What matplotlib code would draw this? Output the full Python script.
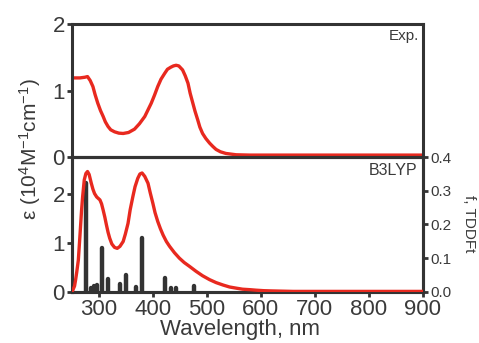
import numpy as np
import matplotlib
matplotlib.use('Agg')
import matplotlib.pyplot as plt

plt.rcParams['font.family'] = ['Liberation Sans', 'DejaVu Sans']
plt.rcParams['mathtext.fontset'] = 'custom'
plt.rcParams['mathtext.rm'] = 'Liberation Sans'
plt.rcParams['mathtext.it'] = 'Liberation Sans'

wl_exp = [250, 265, 274, 279, 284, 289, 293, 298, 303, 308, 312, 317, 322, 329,
          337, 345, 355, 366, 375, 385, 391, 397, 403, 409, 415, 422, 427, 433,
          438, 443, 448, 455, 460, 465, 469, 474, 478, 483, 487, 492, 498, 505,
          511, 517, 525, 535, 554, 580, 620, 700, 900]
eps_exp = [1.19, 1.19, 1.20, 1.21, 1.15, 1.06, 0.94, 0.81, 0.70, 0.61, 0.53, 0.46,
           0.41, 0.38, 0.36, 0.355, 0.37, 0.42, 0.50, 0.61, 0.71, 0.81, 0.93,
           1.06, 1.17, 1.26, 1.32, 1.35, 1.37, 1.38, 1.37, 1.31, 1.22, 1.11, 0.96,
           0.81, 0.69, 0.56, 0.45, 0.355, 0.28, 0.21, 0.16, 0.115, 0.08, 0.055,
           0.035, 0.03, 0.03, 0.03, 0.03]

# espectro calculado B3LYP (panel inferior)
wl_calc = [250, 252, 255, 257, 259, 262, 265, 268, 270, 273, 276, 279, 282, 286,
           289, 292, 296, 302, 305, 308, 311, 314, 317, 320, 324, 329, 334, 339,
           345, 349, 354, 358, 363, 367, 372, 376, 380, 385, 391, 395, 400, 404,
           409, 414, 419, 425, 431, 440, 449, 458, 468, 480, 492, 505, 517, 530,
           542, 555, 566, 580, 591, 605, 620, 660, 900]
eps_calc = [0.0, 0.04, 0.12, 0.25, 0.4, 0.65, 1.15, 1.67, 1.95, 2.29, 2.42, 2.46,
            2.40, 2.22, 2.10, 2.01, 1.94, 1.88, 1.80, 1.67, 1.53, 1.37, 1.22, 1.10,
            0.98, 0.91, 0.89, 0.93, 1.03, 1.18, 1.40, 1.68, 1.95, 2.15, 2.32, 2.41,
            2.43, 2.36, 2.22, 2.03, 1.81, 1.62, 1.44, 1.29, 1.16, 1.03, 0.93, 0.80,
            0.69, 0.60, 0.52, 0.42, 0.33, 0.25, 0.19, 0.14, 0.10, 0.075, 0.055,
            0.045, 0.035, 0.025, 0.02, 0.01, 0.01]

# fuerzas de oscilador TDDFT
wl_f = [277, 285, 291, 297, 305, 317, 339, 350, 368, 380, 422, 434, 443, 477]
f_osc = [0.322, 0.012, 0.018, 0.02, 0.13, 0.038, 0.024, 0.05, 0.016, 0.161,
         0.041, 0.011, 0.013, 0.018]

rojo = '#e8291f'
gris = '#333333'
texto = '#3a3a3a'

fig = plt.figure(figsize=(4.79, 3.43), dpi=100)
ax1 = fig.add_axes([0.150, 0.542, 0.733, 0.388])
ax2 = fig.add_axes([0.150, 0.149, 0.733, 0.393])
ax3 = ax2.twinx()

ax1.plot(wl_exp, eps_exp, color=rojo, lw=2.4, solid_capstyle='round',
         solid_joinstyle='round')
ax2.plot(wl_calc, eps_calc, color=rojo, lw=2.4, solid_capstyle='round',
         solid_joinstyle='round', zorder=3)
barras = ax3.vlines(wl_f, 0, f_osc, color=gris, lw=3.2)
barras.set_capstyle('round')

for ax in (ax1, ax2, ax3):
    ax.set_xlim(250, 900)
    for s in ax.spines.values():
        s.set_linewidth(2.2)
        s.set_color(gris)
    ax.tick_params(direction='out', width=2.0, length=3.5, color=gris,
                   labelcolor=texto, labelsize=16, pad=1.5)

ax1.set_ylim(0, 2)
ax1.set_yticks([0, 1, 2])
ax1.set_xticks([])
ax2.set_ylim(0, 2.755)
ax2.set_yticks([0, 1, 2])
ax2.set_xticks([300, 400, 500, 600, 700, 800, 900])
ax3.set_ylim(0, 0.4)
ax3.set_yticks([0.0, 0.1, 0.2, 0.3, 0.4])
ax3.set_yticklabels(['0.0', '0.1', '0.2', '0.3', '0.4'])
ax3.tick_params(axis='y', labelsize=11)
ax2.set_zorder(ax3.get_zorder() + 1)
ax2.patch.set_visible(False)

ax1.text(0.99, 0.96, 'Exp.', transform=ax1.transAxes, ha='right', va='top',
         fontsize=11, color=texto)
ax2.text(0.985, 0.955, 'B3LYP', transform=ax2.transAxes, ha='right', va='top',
         fontsize=11.5, color=texto)

fig.text(0.063, 0.565, r'ε (10$^4$M$^{-1}$cm$^{-1}$)', rotation=90,
         ha='center', va='center', fontsize=15, color=texto)
fig.text(0.98, 0.347, 'f, TDDFt', rotation=270, ha='center', va='center',
         fontsize=11, color=texto)
fig.text(0.50, 0.038, 'Wavelength, nm', ha='center', va='center',
         fontsize=16, color=texto)

fig.savefig('out.png', dpi=100)
